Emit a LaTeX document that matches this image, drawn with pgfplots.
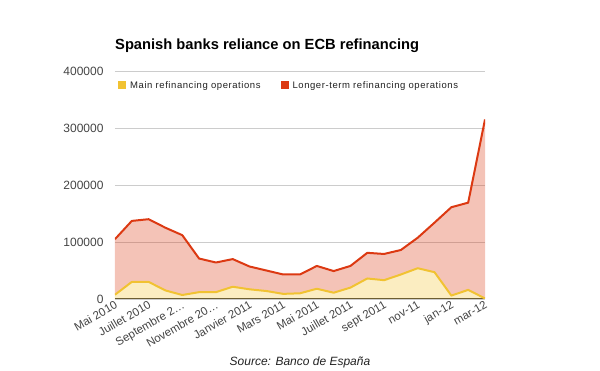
\documentclass[border=0pt]{standalone}
\usepackage{pgfplots}
\pgfplotsset{compat=1.18}
\usepackage{pgfplotstable}
\usepgfplotslibrary{fillbetween}
\usepackage{fontspec}
\setmainfont{Liberation Sans}
\definecolor{rc}{HTML}{DC3912}
\definecolor{yc}{HTML}{F1C232}
\definecolor{tl}{HTML}{444444}
\definecolor{lg}{HTML}{222222}

\pgfplotstableread{
x main total
0 7500 105000
1 30000 137000
2 30000 140000
3 15000 125000
4 7000 112000
5 12000 71000
6 12000 64000
7 21500 70000
8 17000 57000
9 14000 50000
10 9000 43000
11 10000 43000
12 18000 58000
13 11000 49000
14 20000 58000
15 36000 81000
16 33000 79000
17 43000 86000
18 54000 107500
19 47000 134000
20 6000 161000
21 16000 169000
22 1000 315000
}\data

\begin{document}
\begin{tikzpicture}
\begin{axis}[
  scale only axis, width=370pt, height=228pt,
  xmin=0, xmax=22, ymin=0, ymax=400000,
  axis x line*=bottom, axis y line*=left,
  x axis line style={draw=black!80, line width=1pt},
  y axis line style={draw=none},
  major tick length=0pt,
  ymajorgrids, grid style={draw=black!20, line width=0.8pt},
  ytick={0,100000,200000,300000,400000},
  scaled y ticks=false,
  yticklabel style={/pgf/number format/fixed, /pgf/number format/1000 sep={}, /pgf/number format/assume math mode=true, font=\fontsize{12}{14}\selectfont, color=tl, xshift=-8pt},
  xtick={0,2,4,6,8,10,12,14,16,18,20,22},
  xticklabels={Mai 2010, Juillet 2010, Septembre 2…, Novembre 20…, Janvier 2011, Mars 2011, Mai 2011, Juillet 2011, sept 2011, nov-11, jan-12, mar-12},
  xticklabel style={rotate=30, anchor=north east, font=\fontsize{11.5}{13}\selectfont, color=tl, xshift=2pt, yshift=3pt},
  title={Spanish banks reliance on ECB refinancing},
  title style={at={(0,1)}, anchor=base west, yshift=15pt, inner sep=0pt, font=\bfseries\fontsize{14.7}{16}\selectfont},
  xlabel={Source: Banco de España},
  xlabel style={at={(axis description cs:0.5,0)}, anchor=base, yshift=-67pt, inner sep=0pt, font=\itshape\fontsize{12}{14}\selectfont, color=lg},
  legend image code/.code={\fill[#1, draw=none] (0pt,-4pt) rectangle (8pt,4pt); \path[draw=none, fill=none] (0pt,0pt) (10pt,0pt);},
  legend style={draw=none, fill=none, at={(0,1)}, anchor=north west, yshift=-6pt,
    font=\addfontfeatures{LetterSpace=6}\fontsize{9.5}{11}\selectfont, text=lg,
    /tikz/every even column/.append style={column sep=18pt}},
  legend columns=2,
]
\addlegendimage{fill=yc}\addlegendentry{Main refinancing operations}
\addlegendimage{fill=rc}\addlegendentry{Longer-term refinancing operations}
\addplot[draw=none, name path=base, forget plot] coordinates {(0,0) (22,0)};
\addplot[draw=none, name path=mainp, forget plot] table[x=x,y=main]{\data};
\addplot[draw=none, name path=totp, forget plot] table[x=x,y=total]{\data};
\addplot[fill=yc, fill opacity=0.3, draw=none, forget plot] fill between[of=mainp and base];
\addplot[fill=rc, fill opacity=0.3, draw=none, forget plot] fill between[of=totp and mainp];
\addplot[draw=yc, line width=2pt, line join=round, forget plot] table[x=x,y=main]{\data};
\addplot[draw=rc, line width=2pt, line join=round, forget plot] table[x=x,y=total]{\data};
\end{axis}
\pgfresetboundingbox
\useasboundingbox (-115pt,-72pt) rectangle (485pt,299pt);
\end{tikzpicture}
\end{document}
